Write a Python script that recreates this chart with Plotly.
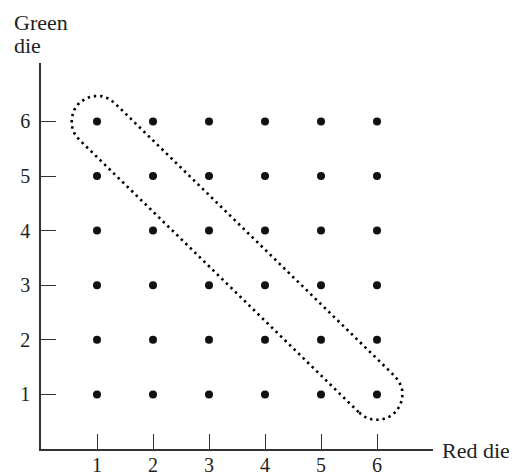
import numpy as np
import plotly.graph_objects as go

# Data
red_values = [1, 2, 3, 4, 5, 6]
green_values = [1, 2, 3, 4, 5, 6]
tick_labels = ["1", "2", "3", "4", "5", "6"]
# outcomes with sum 7 (the circled diagonal)
diag_start = (1, 6)
diag_end = (6, 1)

# the page body adds an 8px offset; figure sized to fit the window
OFF = 8
W, H = 517 - OFF, 473 - OFF
ML, MR, MT, MB = 41 - OFF, 84, 63 - OFF, 24
XR = [0, 7.0]
YR = [0, 7.07]

xs = [r for r in red_values for g in green_values]
ys = [g for r in red_values for g in green_values]

# capsule (stadium) around the diagonal, built in pixel-consistent space
pw = W - ML - MR
ph = H - MT - MB
sx = pw / (XR[1] - XR[0])
sy = ph / (YR[1] - YR[0])
radius_px = 25.5
p0 = np.array([diag_start[0] * sx, diag_start[1] * sy])
p1 = np.array([diag_end[0] * sx, diag_end[1] * sy])
d = p1 - p0
ang = np.arctan2(d[1], d[0])
pts = []
for t in np.linspace(ang - np.pi / 2, ang + np.pi / 2, 60):
    pts.append(p1 + radius_px * np.array([np.cos(t), np.sin(t)]))
for t in np.linspace(ang + np.pi / 2, ang + 3 * np.pi / 2, 60):
    pts.append(p0 + radius_px * np.array([np.cos(t), np.sin(t)]))
pts.append(pts[0])
pts = np.array(pts)
cap_x = pts[:, 0] / sx
cap_y = pts[:, 1] / sy

fig = go.Figure()
fig.add_trace(go.Scatter(
    x=cap_x, y=cap_y, mode="lines",
    line=dict(color="black", width=2.6, dash="2.4px,3.9px"),
    hoverinfo="skip", showlegend=False,
))
fig.add_trace(go.Scatter(
    x=xs, y=ys, mode="markers",
    marker=dict(color="#111111", size=8),
    showlegend=False,
))

axis_common = dict(
    showgrid=False, zeroline=False, showline=True, automargin=False,
    linecolor="#333333", linewidth=1.6,
    ticks="inside", ticklen=15, tickwidth=1.2, tickcolor="#333333",
    tickfont=dict(family="Liberation Serif", size=20, color="#222222"),
    fixedrange=True,
)
fig.update_xaxes(range=XR, tickmode="array", tickvals=red_values,
                 ticktext=tick_labels, ticklabelstandoff=-3, **axis_common)
fig.update_yaxes(range=YR, tickmode="array", tickvals=green_values,
                 ticktext=tick_labels, ticklabelstandoff=5, **axis_common)

label_font = dict(family="Liberation Serif", size=22, color="#222222")
for txt, ypix in [("Green", 22), ("die", 45)]:
    fig.add_annotation(
        text=txt, xref="paper", yref="paper",
        x=(12 - OFF - ML) / pw, y=1 + (MT - (ypix - OFF)) / ph,
        xanchor="left", yanchor="middle",
        align="left", showarrow=False, font=label_font,
    )
fig.add_annotation(
    text="Red die", xref="paper", yref="paper",
    x=1 + 7 / pw, y=-1 / ph, xanchor="left", yanchor="middle",
    align="left", showarrow=False, font=label_font,
)

fig.update_layout(
    width=W, height=H,
    margin=dict(l=ML, r=MR, t=MT, b=MB, pad=0, autoexpand=False),
    paper_bgcolor="white", plot_bgcolor="white",
)
fig.write_html("out.html")
